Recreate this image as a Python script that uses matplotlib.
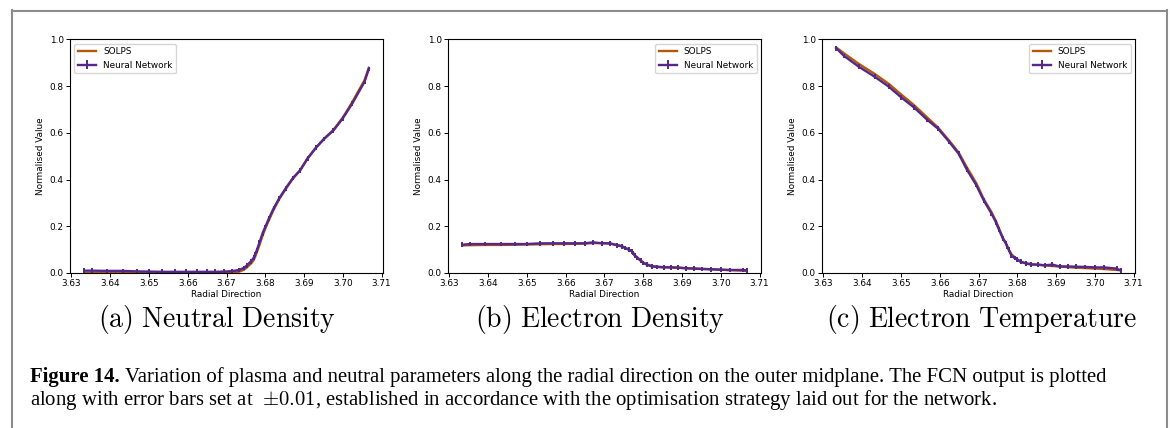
import matplotlib
matplotlib.use("Agg")
import matplotlib.pyplot as plt
from matplotlib.lines import Line2D

plt.rcParams['mathtext.fontset'] = 'cm'
plt.rcParams['font.family'] = ['DejaVu Sans']

# ---------------- data ----------------
radial = [3.6333, 3.6353, 3.6391, 3.6432, 3.6468, 3.6501, 3.6534, 3.6568, 3.6596, 3.6625,
          3.6649, 3.6670, 3.6694, 3.6714, 3.6733, 3.6745, 3.6753, 3.6763, 3.6770, 3.6774,
          3.6778, 3.6785, 3.6793, 3.6800, 3.6809, 3.6822, 3.6836, 3.6853, 3.6871, 3.6890,
          3.6909, 3.6931, 3.6951, 3.6976, 3.7000, 3.7024, 3.7056, 3.7067]

neutral_solps = [0.000, 0.000, 0.000, 0.000, 0.000, 0.000, 0.000, 0.000, 0.000, 0.000,
                 0.000, 0.000, 0.000, 0.002, 0.006, 0.014, 0.025, 0.040, 0.055, 0.070,
                 0.088, 0.120, 0.160, 0.190, 0.225, 0.272, 0.316, 0.360, 0.403, 0.440,
                 0.490, 0.536, 0.573, 0.613, 0.665, 0.730, 0.825, 0.878]
neutral_nn = [0.010, 0.010, 0.009, 0.009, 0.007, 0.006, 0.005, 0.005, 0.005, 0.005,
              0.005, 0.005, 0.006, 0.008, 0.013, 0.022, 0.033, 0.050, 0.065, 0.080,
              0.097, 0.130, 0.170, 0.197, 0.232, 0.278, 0.320, 0.363, 0.406, 0.439,
              0.490, 0.537, 0.573, 0.610, 0.662, 0.724, 0.818, 0.873]

edens_solps = [0.118, 0.119, 0.120, 0.120, 0.121, 0.122, 0.123, 0.124, 0.124, 0.125,
               0.126, 0.128, 0.128, 0.126, 0.120, 0.115, 0.108, 0.100, 0.093, 0.086,
               0.076, 0.066, 0.055, 0.045, 0.037, 0.030, 0.027, 0.025, 0.024, 0.023,
               0.021, 0.019, 0.018, 0.016, 0.014, 0.012, 0.010, 0.009]
edens_nn = [0.121, 0.124, 0.124, 0.124, 0.124, 0.124, 0.127, 0.127, 0.127, 0.127,
            0.127, 0.131, 0.127, 0.127, 0.118, 0.114, 0.107, 0.100, 0.093, 0.085,
            0.074, 0.064, 0.053, 0.043, 0.036, 0.028, 0.026, 0.024, 0.024, 0.023,
            0.020, 0.019, 0.017, 0.016, 0.014, 0.013, 0.013, 0.011]

etemp_solps = [0.965, 0.940, 0.895, 0.852, 0.810, 0.763, 0.718, 0.665, 0.622, 0.565,
               0.515, 0.452, 0.385, 0.315, 0.262, 0.222, 0.190, 0.150, 0.130, 0.115,
               0.100, 0.080, 0.068, 0.058, 0.048, 0.042, 0.038, 0.035, 0.032, 0.030,
               0.028, 0.025, 0.023, 0.021, 0.019, 0.017, 0.013, 0.012]
etemp_nn = [0.962, 0.929, 0.883, 0.840, 0.798, 0.751, 0.708, 0.655, 0.617, 0.560,
            0.510, 0.442, 0.377, 0.309, 0.256, 0.217, 0.185, 0.147, 0.128, 0.114,
            0.100, 0.074, 0.064, 0.057, 0.048, 0.041, 0.036, 0.036, 0.033, 0.036,
            0.028, 0.028, 0.027, 0.026, 0.024, 0.024, 0.019, 0.011]

error = 0.01
x_ticks = [3.63, 3.64, 3.65, 3.66, 3.67, 3.68, 3.69, 3.70, 3.71]
y_ticks = [0.0, 0.2, 0.4, 0.6, 0.8, 1.0]
panel_titles = ["(a) Neutral Density", "(b) Electron Density", "(c) Electron Temperature"]
legend_locs = ["upper left", "upper right", "upper right"]
panels = [(neutral_solps, neutral_nn), (edens_solps, edens_nn), (etemp_solps, etemp_nn)]

caption_bold = "Figure 14."
caption_line1 = ("Variation of plasma and neutral parameters along the radial direction on the "
                 "outer midplane. The FCN output is plotted")
caption_line2 = ("along with error bars set at  $\\pm0.01$, established in accordance with the "
                 "optimisation strategy laid out for the network.")

# ---------------- figure ----------------
W, H = 1170, 428
fig = plt.figure(figsize=(W / 100, H / 100), dpi=100)
fig.patch.set_facecolor('white')

ORANGE = '#b35806'
PURPLE = '#542788'
FS = 6.4

ax_lefts = [70, 448, 822]
ax_w = 313
ax_top, ax_bot = 39.3, 273
title_centers = [217, 600, 981]
title_y = 320

for i, (solps, nn) in enumerate(panels):
    ax = fig.add_axes([ax_lefts[i] / W, (H - ax_bot) / H, ax_w / W, (ax_bot - ax_top) / H])
    ax.plot(radial, solps, color=ORANGE, lw=1.7, label='SOLPS')
    ax.errorbar(radial, nn, yerr=error, color=PURPLE, lw=1.7, elinewidth=1.4,
                label='Neural Network')
    ax.set_ylim(0, 1.0)
    ax.set_xticks(x_ticks)
    ax.set_xticklabels([f"{t:.2f}" for t in x_ticks])
    ax.set_yticks(y_ticks)
    ax.set_yticklabels([f"{t:.1f}" for t in y_ticks])
    ax.tick_params(labelsize=FS, length=3, width=0.7, pad=1.5)
    for s in ax.spines.values():
        s.set_linewidth(0.8)
    ax.set_xlabel("Radial Direction", fontsize=FS, labelpad=1.5)
    ax.set_ylabel("Normalised Value", fontsize=FS, labelpad=3)
    ax.legend(loc=legend_locs[i], fontsize=FS)
    fig.text(title_centers[i] / W, 1 - title_y / H,
             r"$\mathrm{" + panel_titles[i].replace(" ", r"\ ") + "}$",
             ha='center', va='center', fontsize=20)

# frame around the figure
frame_col = '#8c8c8c'
fig.add_artist(Line2D([11.5 / W, 11.5 / W], [0, 1 - 10 / H], transform=fig.transFigure,
                      color=frame_col, lw=1.5))
fig.add_artist(Line2D([1166.5 / W, 1166.5 / W], [0, 1 - 10 / H], transform=fig.transFigure,
                      color=frame_col, lw=1.5))
fig.add_artist(Line2D([11.5 / W, 1166.5 / W], [1 - 10.5 / H, 1 - 10.5 / H],
                      transform=fig.transFigure, color=frame_col, lw=1.5))

# caption, fitted to the width of the reference
cap_x0, cap_x1 = 30, 1110
y1, y2 = 382, 405
renderer = fig.canvas.get_renderer()


def draw_caption(fs):
    t1 = fig.text(cap_x0 / W, 1 - y1 / H, caption_bold, fontsize=fs, weight='bold',
                  family=['Liberation Serif'], va='baseline')
    bb = t1.get_window_extent(renderer)
    t2 = fig.text((bb.x1 + fs * 0.35) / W, 1 - y1 / H, caption_line1, fontsize=fs,
                  family=['Liberation Serif'], va='baseline')
    t3 = fig.text(cap_x0 / W, 1 - y2 / H, caption_line2, fontsize=fs,
                  family=['Liberation Serif'], va='baseline')
    return t1, t2, t3


fs0 = 12.0
ts = draw_caption(fs0)
end = ts[1].get_window_extent(renderer).x1
for t in ts:
    t.remove()
fs = fs0 * (cap_x1 - cap_x0) / (end - cap_x0)
draw_caption(fs)

fig.savefig("out.png", dpi=100)
